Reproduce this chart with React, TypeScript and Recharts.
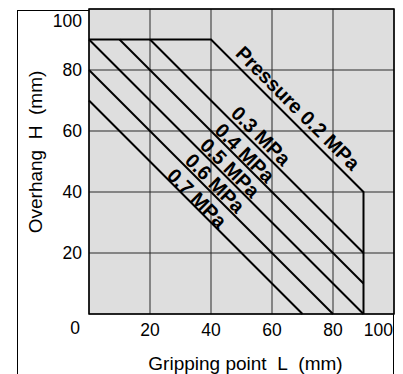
import React from 'react';
import { LineChart, Line, XAxis, YAxis, CartesianGrid, ReferenceArea, ReferenceDot } from 'recharts';

// boundary lines, one per pressure (L = gripping point, H = overhang)
const p02 = [{ l: 0, h: 90 }, { l: 40, h: 90 }, { l: 90, h: 40 }, { l: 90, h: 0 }];
const p03 = [{ l: 20, h: 90 }, { l: 90, h: 20 }];
const p04 = [{ l: 10, h: 90 }, { l: 90, h: 10 }];
const p05 = [{ l: 0, h: 90 }, { l: 90, h: 0 }];
const p06 = [{ l: 0, h: 80 }, { l: 80, h: 0 }];
const p07 = [{ l: 0, h: 70 }, { l: 70, h: 0 }];
const series = [p02, p03, p04, p05, p06, p07];

const labelText = ['Pressure 0.2 MPa', '0.3 MPa', '0.4 MPa', '0.5 MPa', '0.6 MPa', '0.7 MPa'];
const labelL = [68.5, 56.4, 51.1, 46.2, 41.3, 35.4];
const labelH = [67.5, 58.4, 52.8, 47.9, 42.9, 38.0];

const xTicks = [0, 20, 40, 60, 80, 100];
const yTicks = [0, 20, 40, 60, 80, 100];

const FONT = '"Liberation Sans", Arial, Helvetica, sans-serif';
const TICK_SIZE = 17.5;

const XTick = ({ x, y, payload }: any) => {
  const v = payload.value;
  if (v === 0) return null;
  const end = v === 100;
  return (
    <text x={end ? x - 1 : x} y={y + 22} textAnchor={end ? 'end' : 'middle'} fontSize={TICK_SIZE} fontFamily={FONT} fill="#000">
      {v}
    </text>
  );
};

const YTick = ({ x, y, payload }: any) => {
  const v = payload.value;
  let ty = y;
  let tx = x - 7;
  if (v === 100) ty = y + 12;
  if (v === 0) {
    ty = y + 14;
    tx = x - 9;
  }
  return (
    <text x={tx} y={ty} dy="0.35em" textAnchor="end" fontSize={TICK_SIZE} fontFamily={FONT} fill="#000">
      {v}
    </text>
  );
};

const slantLabel = (text: string) => (props: any) => {
  const vb = props.viewBox || {};
  const cx = vb.x + (vb.width || 0) / 2;
  const cy = vb.y + (vb.height || 0) / 2;
  return (
    <text
      x={cx}
      y={cy}
      dy="0.35em"
      textAnchor="middle"
      transform={`rotate(45, ${cx}, ${cy})`}
      fontSize={20}
      fontWeight="bold"
      fontFamily={FONT}
      fill="#000"
    >
      {text}
    </text>
  );
};

const YLabel = (props: any) => {
  const vb = props.viewBox;
  const cx = vb.x + 35;
  const cy = 152;
  return (
    <text x={cx} y={cy} dy="0.35em" textAnchor="middle" transform={`rotate(-90, ${cx}, ${cy})`} fontSize={19} fontFamily={FONT} fill="#000">
      {'Overhang\u00a0\u00a0H\u00a0\u00a0(mm)'}
    </text>
  );
};

export default function App() {
  return (
    <div style={{ position: 'absolute', left: 0, top: 0, width: 403, height: 374, overflow: 'hidden', background: '#fff' }}>
      <div
        style={{
          position: 'absolute',
          left: 17,
          top: -22,
          fontFamily: FONT,
          fontWeight: 'bold',
          fontSize: 26,
          lineHeight: '26px',
          color: '#000',
        }}
      >
        MHZ2-32D
      </div>
      <div style={{ position: 'absolute', left: 17, top: 10, width: 377, height: 400, border: '1px solid #000', boxSizing: 'border-box' }} />
      <div style={{ position: 'absolute', left: 0, top: 0 }}>
        <LineChart width={403} height={374} margin={{ top: 9, right: 9, left: 0, bottom: 0 }}>
          <CartesianGrid fill="#dedede" fillOpacity={1} stroke="#2a2a2a" strokeWidth={1} />
          <XAxis
            dataKey="l"
            type="number"
            domain={[0, 100]}
            ticks={xTicks}
            height={60}
            axisLine={false}
            tickLine={false}
            tickSize={0}
            tickMargin={0}
            tick={<XTick />}
            interval={0}
            label={{ value: 'Gripping\u00a0point\u00a0\u00a0L\u00a0\u00a0(mm)', position: 'insideBottom', offset: 4, dx: 4, fontSize: 19, fontFamily: FONT, fill: '#000' }}
          />
          <YAxis
            dataKey="h"
            type="number"
            domain={[0, 100]}
            ticks={yTicks}
            width={89}
            axisLine={false}
            tickLine={false}
            tickSize={0}
            tickMargin={0}
            tick={<YTick />}
            interval={0}
            label={<YLabel />}
          />
          <ReferenceArea x1={0} x2={100} y1={0} y2={100} fill="none" stroke="#000" strokeWidth={1.5} ifOverflow="visible" />
          {series.map((d, i) => (
            <Line
              key={i}
              data={d}
              dataKey="h"
              type="linear"
              stroke="#000"
              strokeWidth={2}
              dot={false}
              isAnimationActive={false}
            />
          ))}
          {labelText.map((t, i) => (
            <ReferenceDot
              key={t}
              x={labelL[i]}
              y={labelH[i]}
              r={0}
              fill="none"
              stroke="none"
              ifOverflow="visible"
              label={slantLabel(t)}
            />
          ))}
        </LineChart>
      </div>
    </div>
  );
}
